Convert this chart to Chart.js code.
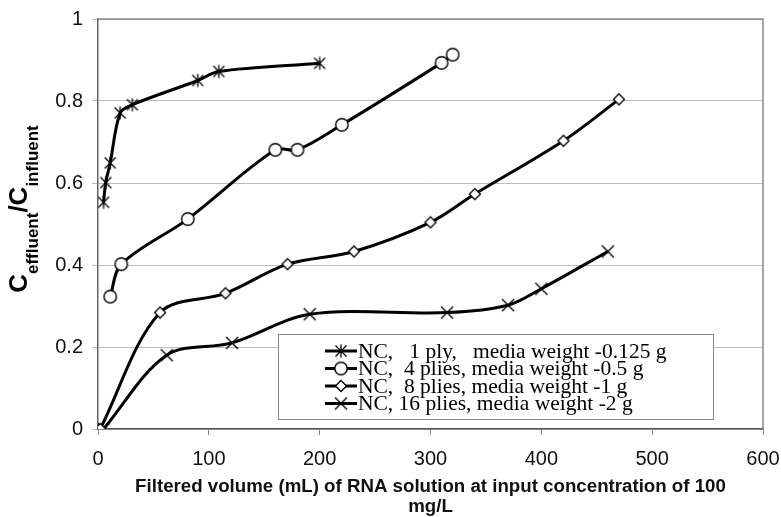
<!DOCTYPE html>
<html>
<head>
<meta charset="utf-8">
<script src="https://cdn.jsdelivr.net/npm/chart.js@4/dist/chart.umd.min.js"></script>
<style>
  html, body { margin: 0; padding: 0; background: #fff; }
  #wrap { width: 781px; height: 517px; }
</style>
</head>
<body>
<div id="wrap"><canvas id="graph" width="781" height="517"></canvas></div>
<script>
// -------------------------
// DATA
// -------------------------
const ply1X = [5, 7, 11, 20, 31, 90, 109, 200];
const ply1Y = [0.553, 0.601, 0.649, 0.771, 0.791, 0.85, 0.872, 0.892];

const ply4X = [11, 21, 81, 160, 180, 220, 310, 320];
const ply4Y = [0.323, 0.402, 0.512, 0.681, 0.681, 0.742, 0.893, 0.913];

const ply8X = [2, 56, 115, 171, 231, 300, 340, 420, 470];
const ply8Y = [0, 0.284, 0.331, 0.402, 0.433, 0.504, 0.573, 0.703, 0.804];

const ply16X = [5, 62, 121, 191, 315, 370, 400, 460];
const ply16Y = [0, 0.18, 0.21, 0.28, 0.284, 0.302, 0.342, 0.433];

const seriesLabels = [
  "NC,   1 ply,   media weight -0.125 g",
  "NC,  4 plies, media weight -0.5 g",
  "NC,  8 plies, media weight -1 g",
  "NC, 16 plies, media weight -2 g"
];

const xTitle = ["Filtered volume (mL) of RNA solution at input concentration of 100", "mg/L"];

// -------------------------
// MARKERS
// -------------------------
function makeMarker(size, draw) {
  const c = document.createElement("canvas");
  c.width = size;
  c.height = size;
  const g = c.getContext("2d");
  g.translate(size / 2, size / 2);
  g.strokeStyle = "#000";
  g.fillStyle = "#fff";
  draw(g);
  return c;
}

const asterisk = makeMarker(16, g => {
  g.lineWidth = 1.3;
  g.beginPath();
  g.moveTo(0, -6.5); g.lineTo(0, 6.5);
  g.moveTo(-5.5, -5.5); g.lineTo(5.5, 5.5);
  g.moveTo(-5.5, 5.5); g.lineTo(5.5, -5.5);
  g.stroke();
});

const circle = makeMarker(16, g => {
  g.lineWidth = 1.4;
  g.beginPath();
  g.arc(0, 0, 6.2, 0, Math.PI * 2);
  g.fill();
  g.stroke();
});

const diamond = makeMarker(14, g => {
  g.lineWidth = 1.3;
  g.beginPath();
  g.moveTo(0, -5.5); g.lineTo(5.5, 0); g.lineTo(0, 5.5); g.lineTo(-5.5, 0);
  g.closePath();
  g.fill();
  g.stroke();
});

const cross = makeMarker(16, g => {
  g.lineWidth = 1.4;
  g.beginPath();
  g.moveTo(-6, -6); g.lineTo(6, 6);
  g.moveTo(-6, 6); g.lineTo(6, -6);
  g.stroke();
});

const markers = [asterisk, circle, diamond, cross];

function toPoints(xs, ys) {
  return xs.map((x, i) => ({ x: x, y: ys[i] }));
}

function series(label, xs, ys, marker) {
  return {
    label: label,
    data: toPoints(xs, ys),
    borderColor: "#000",
    borderWidth: 3,
    tension: 0.33,
    fill: false,
    pointStyle: marker,
    pointRadius: 6,
    pointHoverRadius: 6
  };
}

// -------------------------
// PLUGINS (frame, y title, legend box)
// -------------------------
const extras = {
  id: "extras",
  afterDraw(chart) {
    const ctx = chart.ctx;
    const a = chart.chartArea;

    // top + right frame of the plot area
    ctx.save();
    ctx.strokeStyle = "#888";
    ctx.lineWidth = 1.5;
    ctx.beginPath();
    ctx.moveTo(a.left, a.top);
    ctx.lineTo(a.right, a.top);
    ctx.lineTo(a.right, a.bottom);
    ctx.stroke();
    ctx.restore();

    // y axis title with subscripts
    ctx.save();
    ctx.fillStyle = "#000";
    const big = "bold 26px 'Liberation Sans', Arial, sans-serif";
    const small = "bold 17px 'Liberation Sans', Arial, sans-serif";
    const parts = [
      [big, "C", 0], [small, "effluent", 11],
      [big, "/", 0], [big, "C", 0], [small, "influent", 11]
    ];
    let total = 0;
    parts.forEach(p => { ctx.font = p[0]; total += ctx.measureText(p[1]).width; });
    ctx.translate(27, 209);
    ctx.rotate(-Math.PI / 2);
    let x = -total / 2;
    parts.forEach(p => {
      ctx.font = p[0];
      ctx.fillText(p[1], x, p[2]);
      x += ctx.measureText(p[1]).width;
    });
    ctx.restore();

    // legend box inside the plot
    const box = { x: 278, y: 334, w: 435, h: 85 };
    ctx.save();
    ctx.fillStyle = "#fff";
    ctx.fillRect(box.x, box.y, box.w, box.h);
    ctx.strokeStyle = "#888";
    ctx.lineWidth = 1;
    ctx.strokeRect(box.x + 0.5, box.y + 0.5, box.w, box.h);
    ctx.font = "21.5px 'Liberation Serif', 'Times New Roman', serif";
    ctx.textBaseline = "middle";
    ctx.fillStyle = "#000";
    seriesLabels.forEach((txt, i) => {
      const cy = box.y + 17 + i * 17.5;
      ctx.strokeStyle = "#000";
      ctx.lineWidth = 3;
      ctx.beginPath();
      ctx.moveTo(325, cy);
      ctx.lineTo(357, cy);
      ctx.stroke();
      const m = markers[i];
      ctx.drawImage(m, 341 - m.width / 2, cy - m.height / 2);
      ctx.fillText(txt, 358, cy + 1);
    });
    ctx.restore();
  }
};

// -------------------------
// CHART
// -------------------------
const ctx = document.getElementById("graph").getContext("2d");

new Chart(ctx, {
  type: "line",
  data: {
    datasets: [
      series(seriesLabels[0], ply1X, ply1Y, asterisk),
      series(seriesLabels[1], ply4X, ply4Y, circle),
      series(seriesLabels[2], ply8X, ply8Y, diamond),
      series(seriesLabels[3], ply16X, ply16Y, cross)
    ]
  },
  options: {
    responsive: false,
    animation: false,
    layout: { padding: { top: 19, right: 18, left: 0, bottom: 0 } },
    plugins: {
      legend: { display: false },
      tooltip: { enabled: false }
    },
    scales: {
      x: {
        type: "linear",
        min: 0,
        max: 600,
        ticks: {
          stepSize: 100,
          color: "#111",
          padding: 12,
          maxRotation: 0,
          font: { family: "'Liberation Sans', Arial, sans-serif", size: 20 }
        },
        grid: { drawOnChartArea: false, drawTicks: true, tickLength: 6, color: "#888" },
        border: { color: "#555", width: 1.5 },
        title: {
          display: true,
          text: xTitle,
          color: "#111",
          padding: { top: 0, bottom: 0 },
          font: { family: "'Liberation Sans', Arial, sans-serif", size: 18.7, weight: "bold", lineHeight: 1.07 }
        },
        afterFit(scale) {
          scale.height = 88;
          scale.paddingLeft = 0;
          scale.paddingRight = 0;
        }
      },
      y: {
        min: 0,
        max: 1,
        ticks: {
          stepSize: 0.2,
          color: "#111",
          padding: 9,
          font: { family: "'Liberation Sans', Arial, sans-serif", size: 20 },
          callback: v => String(Number(v.toFixed(1)))
        },
        grid: { color: "#bbb", lineWidth: 1, tickLength: 6, drawTicks: true },
        border: { color: "#666", width: 1.5 },
        afterFit(scale) {
          scale.width = 98;
          scale.paddingTop = 0;
          scale.paddingBottom = 0;
        }
      }
    }
  },
  plugins: [extras]
});
</script>
</body>
</html>
